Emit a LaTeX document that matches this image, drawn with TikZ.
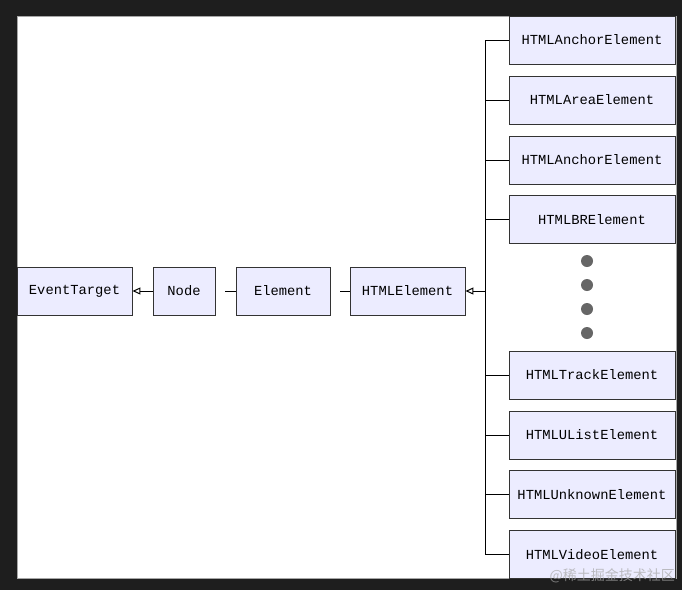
\documentclass[tikz,border=0pt]{standalone}
\usepackage{fontspec}
\setmonofont{Liberation Mono}
\newfontfamily\cjk{Noto Sans CJK SC}
\usetikzlibrary{arrows.meta}
\definecolor{bg}{HTML}{1E1E1E}
\definecolor{boxfill}{HTML}{ECECFF}
\definecolor{boxdraw}{HTML}{333333}
\definecolor{dotc}{HTML}{666666}
\begin{document}
\begin{tikzpicture}[x=1pt,y=-1pt,
  cls/.style={draw=boxdraw, fill=boxfill, line width=0.9pt, minimum height=48pt, inner sep=0pt, font=\fontsize{13.8}{16}\selectfont\ttfamily},
  rcls/.style={cls, minimum width=166pt},
  link/.style={draw=black, line width=1pt},
  inh/.style={link, -{Triangle[open, fill=white, length=8pt, width=7pt]}},
  dotn/.style={circle, fill=dotc, minimum size=12pt, inner sep=0pt},
  wm/.style={text=gray!70, text opacity=0.7, font=\cjk\fontsize{14}{16}\selectfont, inner sep=0pt}]
\useasboundingbox (0,0) rectangle (682,590);
\fill[bg] (0,0) rectangle (682,590);
\filldraw[fill=white, draw=gray!70] (17,16) rectangle (676,578);
% left chain
\node[cls, minimum width=115pt] (et) at (74.5,291) {EventTarget};
\node[cls, minimum width=62pt] (nd) at (184,291) {Node};
\node[cls, minimum width=94pt] (el) at (283,291) {Element};
\node[cls, minimum width=115pt] (he) at (407.5,291) {HTMLElement};
% right column
\node[rcls] (r1) at (592,40) {HTMLAnchorElement};
\node[rcls] (r2) at (592,100) {HTMLAreaElement};
\node[rcls] (r3) at (592,160) {HTMLAnchorElement};
\node[rcls] (r4) at (592,219.5) {HTMLBRElement};
\node[rcls] (r5) at (592,375) {HTMLTrackElement};
\node[rcls] (r6) at (592,435) {HTMLUListElement};
\node[rcls] (r7) at (592,494.5) {HTMLUnknownElement};
\node[rcls] (r8) at (592,554.5) {HTMLVideoElement};
% dots
\node[dotn] (d1) at (587,261) {};
\node[dotn] (d2) at (587,285) {};
\node[dotn] (d3) at (587,309) {};
\node[dotn] (d4) at (587,333) {};
% connectors
\draw[inh] (nd.west) -- (et.east);
\draw[link] ([xshift=10pt]nd.east) -- (el.west);
\draw[link] ([xshift=10pt]el.east) -- (he.west);
\coordinate (bus) at (485,291);
\draw[inh] (bus) -- (he.east);
\draw[link] (r1.west) -- (r1.west -| bus) -- (r8.west -| bus) -- (r8.west);
\foreach \r in {r2,r3,r4,r5,r6,r7} {
  \draw[link] (\r.west) -- (\r.west -| bus);
}
% watermark
\node[wm, anchor=east] (wmk) at (675,576) {@稀土掘金技术社区};
\end{tikzpicture}
\end{document}
